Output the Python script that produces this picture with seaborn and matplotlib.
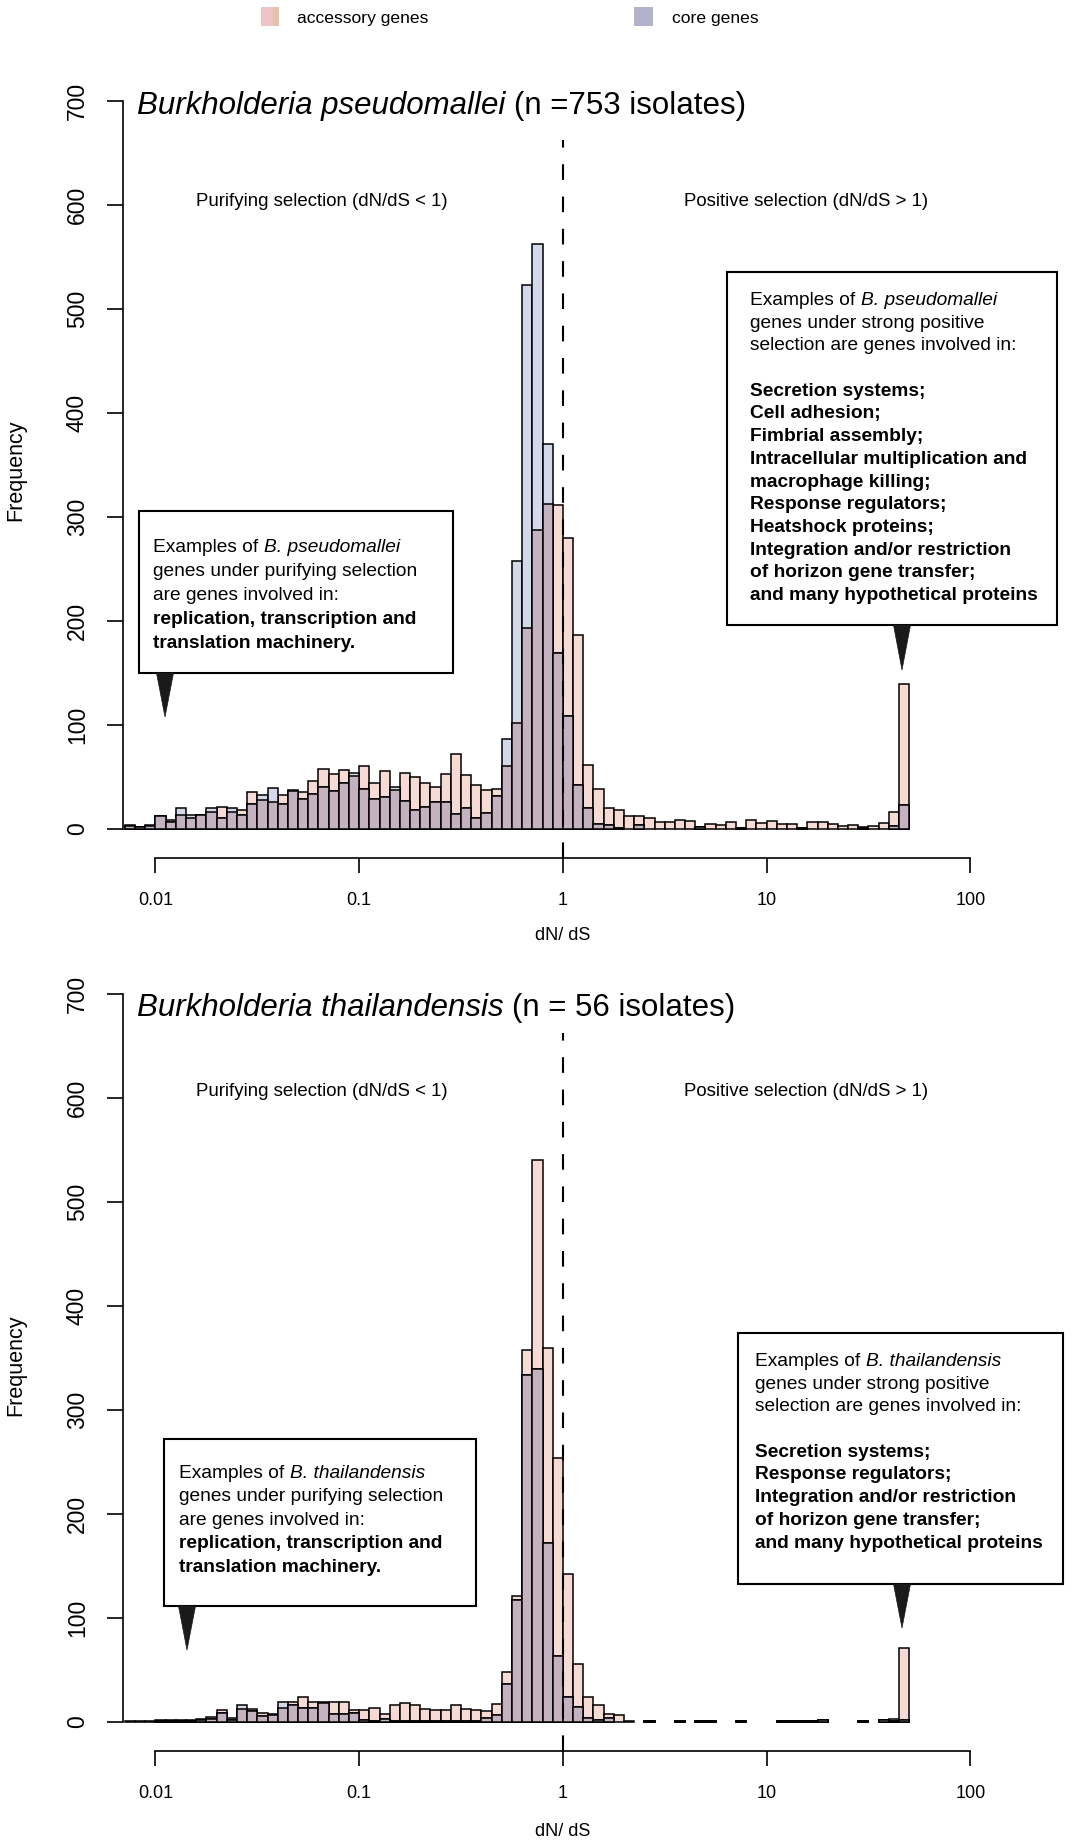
import numpy as np
import pandas as pd
import matplotlib
matplotlib.use("Agg")
import matplotlib.pyplot as plt
from matplotlib.patches import Rectangle, Polygon
import seaborn as sns

sns.set_style("white")
plt.rcParams['font.family'] = ['Liberation Sans', 'DejaVu Sans']
plt.rcParams['text.color'] = 'black'
plt.rcParams['xtick.color'] = 'black'
plt.rcParams['ytick.color'] = 'black'
plt.rcParams['axes.labelcolor'] = 'black'

# histogram bins: log10(dN/dS), width 0.05
edges = np.round(np.arange(-2.15, 1.7001, 0.05), 2)
centers = (edges[:-1] + edges[1:]) / 2

# B. pseudomallei counts per bin
bp_accessory = [4, 2, 4, 12, 9, 13, 10, 13, 16, 21,
                16, 18, 35, 28, 26, 33, 36, 35, 46, 58,
                53, 57, 51, 60, 44, 56, 37, 54, 50, 44,
                40, 53, 72, 52, 42, 37, 38, 60, 102, 193,
                287, 312, 311, 280, 186, 61, 38, 20, 18, 12,
                12, 10, 7, 7, 9, 8, 2, 5, 4, 7,
                1, 9, 6, 8, 5, 5, 1, 7, 7, 5,
                3, 4, 2, 3, 6, 16, 139]
bp_core = [3, 2, 3, 12, 7, 20, 13, 13, 20, 10,
           20, 13, 24, 33, 39, 24, 37, 29, 34, 40,
           36, 44, 54, 38, 29, 31, 40, 27, 18, 21,
           26, 26, 14, 20, 10, 15, 32, 86, 258, 523,
           562, 370, 169, 109, 42, 20, 5, 4, 1, 0,
           4, 0, 0, 0, 0, 0, 2, 0, 0, 0,
           1, 0, 0, 0, 0, 0, 1, 0, 0, 0,
           0, 0, 1, 0, 0, 3, 23]

# B. thailandensis counts per bin
bt_accessory = [1, 1, 1, 2, 2, 2, 2, 3, 5, 11,
                4, 12, 12, 9, 8, 13, 19, 24, 19, 19,
                19, 19, 11, 11, 13, 8, 16, 18, 16, 12,
                11, 11, 16, 12, 11, 10, 17, 48, 121, 358,
                540, 360, 254, 142, 56, 24, 16, 8, 7, 1,
                0, 1, 0, 0, 1, 0, 1, 1, 0, 0,
                1, 0, 0, 0, 1, 1, 1, 1, 2, 0,
                0, 0, 1, 0, 2, 3, 71]
bt_core = [0, 0, 0, 1, 1, 1, 1, 2, 3, 9,
           2, 16, 10, 6, 7, 19, 16, 13, 13, 18,
           8, 8, 9, 2, 1, 3, 1, 1, 1, 1,
           1, 1, 1, 1, 1, 4, 7, 36, 117, 334,
           339, 172, 63, 24, 14, 4, 2, 4, 0, 0,
           0, 1, 0, 0, 1, 0, 1, 1, 0, 0,
           1, 0, 0, 0, 1, 1, 1, 1, 2, 0,
           0, 0, 1, 0, 2, 1, 2]

xticks = [-2, -1, 0, 1, 2]
xtick_labels = ['0.01', '0.1', '1', '10', '100']
yticks = [0, 100, 200, 300, 400, 500, 600, 700]

PINK = '#f6dad4'
BLUE = '#d3d9eb'
MAUVE = '#c5b2c0'

W, H = 1072, 1843
fig = plt.figure(figsize=(W / 100, H / 100), dpi=100)
renderer = fig.canvas.get_renderer()


def fx(x):
    return x / W


def fy(y):
    return 1 - y / H


def axes_rect(top, bottom, left=122.9, right=1002.9):
    return [fx(left), fy(bottom), (right - left) / W, (bottom - top) / H]


def draw_hist(ax, acc, core):
    df = pd.DataFrame({'logdnds': centers, 'acc': acc, 'core': core})
    # overlap of the two translucent histograms
    df['both'] = np.minimum(df['acc'], df['core'])
    kw = dict(data=df, x='logdnds', bins=edges.tolist(), ax=ax, alpha=1,
              edgecolor='black', linewidth=1.1)
    sns.histplot(weights='acc', color=PINK, **kw)
    sns.histplot(weights='core', color=BLUE, **kw)
    sns.histplot(weights='both', color=MAUVE, **kw)
    for p in ax.patches:
        if p.get_height() == 0:
            p.set_visible(False)
    ax.set_xlim(-2.16, 2.16)
    ax.set_ylim(-28, 728)
    ax.plot([0, 0], [-28, 662], color='black', lw=1.5, dashes=(7.5, 8), zorder=5)
    for s in ['top', 'right']:
        ax.spines[s].set_visible(False)
    ax.spines['left'].set_bounds(0, 700)
    ax.spines['bottom'].set_bounds(-2, 2)
    for s in ['left', 'bottom']:
        ax.spines[s].set_color('black')
        ax.spines[s].set_linewidth(1.2)
    ax.set_xticks(xticks)
    ax.set_xticklabels(xtick_labels)
    ax.set_yticks(yticks)
    ax.tick_params(axis='x', bottom=True, direction='out', length=10.8, width=1.2,
                   labelsize=13, pad=14, color='black', labelcolor='black')
    ax.tick_params(axis='y', left=True, direction='out', length=11.5, width=1.2,
                   labelsize=16.5, pad=13, labelrotation=90, color='black', labelcolor='black')
    for lab in ax.get_yticklabels():
        lab.set_va('center')
    ax.set_xlabel('')
    ax.set_ylabel('')
    ax.set_facecolor('white')


def mixed_text(x, y, parts, size, weight='normal'):
    # y is the visual centre of the line; pieces are laid on a common baseline
    fpx = size * 100 / 72
    base = y + 0.26 * fpx
    cur = x
    for i, (txt, style) in enumerate(parts):
        if i > 0:
            cur += 0.278 * fpx
        t = fig.text(fx(cur), fy(base), txt, fontsize=size, fontstyle=style,
                     fontweight=weight, ha='left', va='baseline')
        cur += t.get_window_extent(renderer).width


def draw_box(x0, y0, x1, y1, px, tip):
    fig.add_artist(Rectangle((fx(x0), fy(y1)), (x1 - x0) / W, (y1 - y0) / H,
                             transform=fig.transFigure, facecolor='white',
                             edgecolor='black', linewidth=1.5))
    fig.add_artist(Polygon([(fx(px - 8.5), fy(y1)), (fx(px + 8.5), fy(y1)), (fx(px), fy(tip))],
                           closed=True, transform=fig.transFigure,
                           facecolor='#1a1a1a', edgecolor='#1a1a1a', linewidth=0.5))


def draw_lines(x, y, lines, step, species):
    for i, (txt, bold) in enumerate(lines):
        yy = y + i * step
        if i == 0:
            mixed_text(x, yy, [('Examples of', 'normal'), (species, 'italic')], 13.8)
        elif txt:
            mixed_text(x, yy, [(txt, 'normal')], 13.8, 'bold' if bold else 'normal')


ax_top = fig.add_axes(axes_rect(71.8, 858.0))
draw_hist(ax_top, bp_accessory, bp_core)
ax_bot = fig.add_axes(axes_rect(964.8, 1751.0))
draw_hist(ax_bot, bt_accessory, bt_core)

# legend
fig.add_artist(Rectangle((fx(260.7), fy(26)), 18.6 / W, 19.3 / H, transform=fig.transFigure,
                         facecolor='#eec4c8', edgecolor='none'))
fig.add_artist(Rectangle((fx(273), fy(26)), 6.3 / W, 19.3 / H, transform=fig.transFigure,
                         facecolor='#e6c1aa', edgecolor='none'))
fig.add_artist(Rectangle((fx(634), fy(26)), 19 / W, 19.3 / H, transform=fig.transFigure,
                         facecolor='#b3b2cc', edgecolor='none'))
fig.text(fx(297), fy(18), 'accessory genes', fontsize=12.6, ha='left', va='center')
fig.text(fx(672), fy(18), 'core genes', fontsize=12.6, ha='left', va='center')

# titles and labels
mixed_text(137, 106, [('Burkholderia pseudomallei', 'italic'), ('(n =753 isolates)', 'normal')], 22.5)
mixed_text(137, 1008, [('Burkholderia thailandensis', 'italic'), ('(n = 56 isolates)', 'normal')], 22.5)
for yy in [201.7, 1091]:
    fig.text(fx(321.5), fy(yy), 'Purifying selection (dN/dS < 1)', fontsize=13.4,
             ha='center', va='center')
    fig.text(fx(806), fy(yy), 'Positive selection (dN/dS > 1)', fontsize=13.4,
             ha='center', va='center')
for yy in [470, 1365]:
    fig.text(fx(16), fy(yy), 'Frequency', fontsize=15.5, rotation=90, ha='center', va='center')
for yy in [936, 1832]:
    fig.text(fx(563), fy(yy), 'dN/ dS', fontsize=13, ha='center', va='center')

# annotation boxes
draw_box(139, 511, 453, 673, 165, 717)
draw_lines(153, 547, [('', False),
                      ('genes under purifying selection', False),
                      ('are genes involved in:', False),
                      ('replication, transcription and', True),
                      ('translation machinery.', True)], 24, 'B. pseudomallei')

draw_box(727, 272, 1057, 625, 902, 670)
draw_lines(750, 300, [('', False),
                      ('genes under strong positive', False),
                      ('selection are genes involved in:', False),
                      ('', False),
                      ('Secretion systems;', True),
                      ('Cell adhesion;', True),
                      ('Fimbrial assembly;', True),
                      ('Intracellular multiplication and', True),
                      ('macrophage killing;', True),
                      ('Response regulators;', True),
                      ('Heatshock proteins;', True),
                      ('Integration and/or restriction', True),
                      ('of horizon gene transfer;', True),
                      ('and many hypothetical proteins', True)], 22.7, 'B. pseudomallei')

draw_box(164, 1439, 476, 1606, 187, 1650)
draw_lines(179, 1473, [('', False),
                       ('genes under purifying selection', False),
                       ('are genes involved in:', False),
                       ('replication, transcription and', True),
                       ('translation machinery.', True)], 23.5, 'B. thailandensis')

draw_box(738, 1333, 1063, 1584, 902, 1628)
draw_lines(755, 1361, [('', False),
                       ('genes under strong positive', False),
                       ('selection are genes involved in:', False),
                       ('', False),
                       ('Secretion systems;', True),
                       ('Response regulators;', True),
                       ('Integration and/or restriction', True),
                       ('of horizon gene transfer;', True),
                       ('and many hypothetical proteins', True)], 22.7, 'B. thailandensis')

fig.savefig('out.png', dpi=100, facecolor='white')
